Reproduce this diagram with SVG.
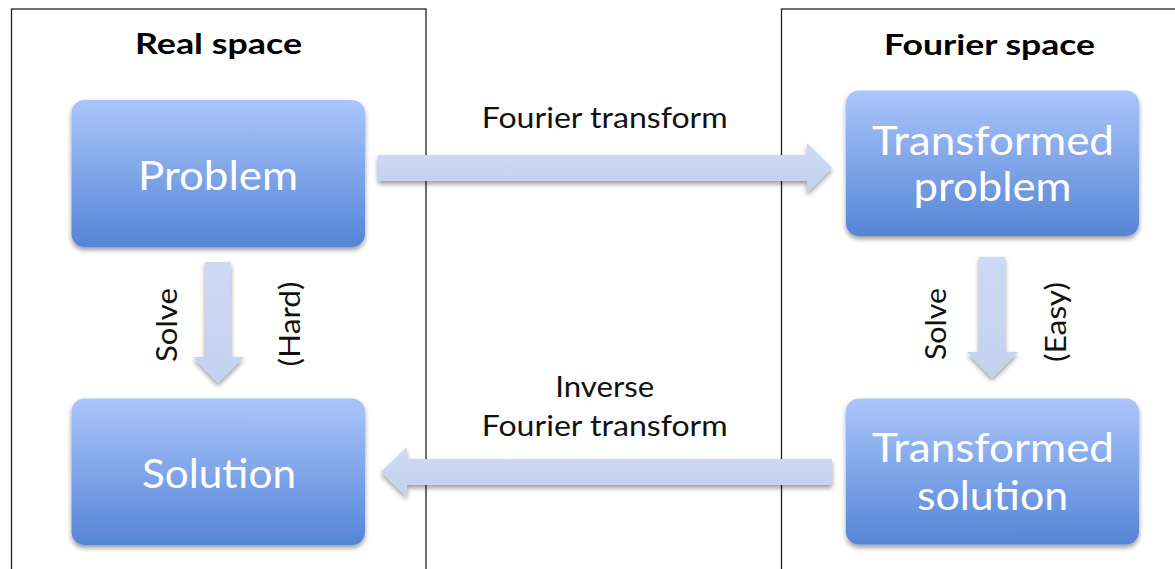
<svg xmlns="http://www.w3.org/2000/svg" width="1175" height="569" viewBox="0 0 1175 569">
  <defs>
    <linearGradient id="boxGrad" x1="0" y1="0" x2="0" y2="1">
      <stop offset="0" stop-color="#abc5fb"/>
      <stop offset="1" stop-color="#5585d6"/>
    </linearGradient>
    <linearGradient id="arrowGrad" x1="0" y1="0" x2="0" y2="1">
      <stop offset="0" stop-color="#ced9f4"/>
      <stop offset="1" stop-color="#c3d1ef"/>
    </linearGradient>
    <filter id="shadow" x="-10%" y="-10%" width="120%" height="130%">
      <feGaussianBlur in="SourceAlpha" stdDeviation="2.5"/>
      <feOffset dx="0" dy="3" result="b"/>
      <feComponentTransfer><feFuncA type="linear" slope="0.4"/></feComponentTransfer>
      <feMerge><feMergeNode/><feMergeNode in="SourceGraphic"/></feMerge>
    </filter>
  </defs>
  <style>
    .panel { fill: #ffffff; stroke: #222222; stroke-width: 1.3; }
    .head { font-family: Lato, "Open Sans", sans-serif; font-weight: bold; font-size: 28px; fill: #000000; text-anchor: middle; }
    .box { fill: url(#boxGrad); filter: url(#shadow); }
    .boxtxt { font-family: Lato, "Open Sans", sans-serif; font-size: 41px; fill: #ffffff; text-anchor: middle; }
    .lbl { font-family: Lato, "Open Sans", sans-serif; font-size: 29px; fill: #111111; text-anchor: middle; }
    .arrow { fill: url(#arrowGrad); filter: url(#shadow); }
  </style>

  <rect width="1175" height="569" fill="#ffffff"/>

  <g id="real-space-panel">
    <rect class="panel" x="11.5" y="9" width="414.5" height="580"/>
    <text class="head" x="218.5" y="54" textLength="167" lengthAdjust="spacingAndGlyphs">Real space</text>
  </g>
  <g id="fourier-space-panel">
    <rect class="panel" x="781.5" y="9" width="420" height="580"/>
    <text class="head" x="989.5" y="55" textLength="211" lengthAdjust="spacingAndGlyphs">Fourier space</text>
  </g>

  <g id="connectors">
    <g id="fourier-transform">
      <path class="arrow" d="M378,155 L807,155 L807,143 L832,168 L807,193 L807,181 L378,181 Z"/>
      <text class="lbl" x="604.7" y="128" textLength="246" lengthAdjust="spacingAndGlyphs">Fourier transform</text>
    </g>
    <g id="inverse-fourier-transform">
      <path class="arrow" d="M832,459 L407,459 L407,447 L381,472 L407,497 L407,485 L832,485 Z"/>
      <text class="lbl" x="604.7" y="397" textLength="99" lengthAdjust="spacingAndGlyphs">Inverse</text>
      <text class="lbl" x="604.7" y="436" textLength="246" lengthAdjust="spacingAndGlyphs">Fourier transform</text>
    </g>
    <g id="solve-hard">
      <path class="arrow" d="M205,262 L231,262 L231,357 L244,357 L218,383 L193,357 L205,357 Z"/>
      <text class="lbl" transform="translate(177,325) rotate(-90)" x="0" y="0" textLength="74" lengthAdjust="spacingAndGlyphs">Solve</text>
      <text class="lbl" transform="translate(300,324) rotate(-90)" x="0" y="0" textLength="85" lengthAdjust="spacingAndGlyphs">(Hard)</text>
    </g>
    <g id="solve-easy">
      <path class="arrow" d="M979,257 L1005,257 L1005,352 L1018,352 L992,378 L967,352 L979,352 Z"/>
      <text class="lbl" transform="translate(946,324) rotate(-90)" x="0" y="0" textLength="72" lengthAdjust="spacingAndGlyphs">Solve</text>
      <text class="lbl" transform="translate(1066,322) rotate(-90)" x="0" y="0" textLength="80" lengthAdjust="spacingAndGlyphs">(Easy)</text>
    </g>
  </g>

  <g id="problem">
    <rect class="box" x="71.5" y="100" width="293.5" height="147" rx="13"/>
    <text class="boxtxt" x="218" y="190" textLength="160" lengthAdjust="spacingAndGlyphs">Problem</text>
  </g>
  <g id="solution">
    <rect class="box" x="71.5" y="398.5" width="293.5" height="146.5" rx="13"/>
    <text class="boxtxt" x="219" y="488" textLength="154" lengthAdjust="spacingAndGlyphs">Solution</text>
  </g>
  <g id="transformed-problem">
    <rect class="box" x="846" y="90.5" width="293" height="145.5" rx="13"/>
    <text class="boxtxt" x="993" y="155" textLength="242" lengthAdjust="spacingAndGlyphs">Transformed</text>
    <text class="boxtxt" x="992.5" y="201" textLength="158" lengthAdjust="spacingAndGlyphs">problem</text>
  </g>
  <g id="transformed-solution">
    <rect class="box" x="846" y="398.5" width="293" height="146" rx="13"/>
    <text class="boxtxt" x="993" y="462" textLength="242" lengthAdjust="spacingAndGlyphs">Transformed</text>
    <text class="boxtxt" x="992.5" y="510" textLength="151" lengthAdjust="spacingAndGlyphs">solution</text>
  </g>
</svg>
